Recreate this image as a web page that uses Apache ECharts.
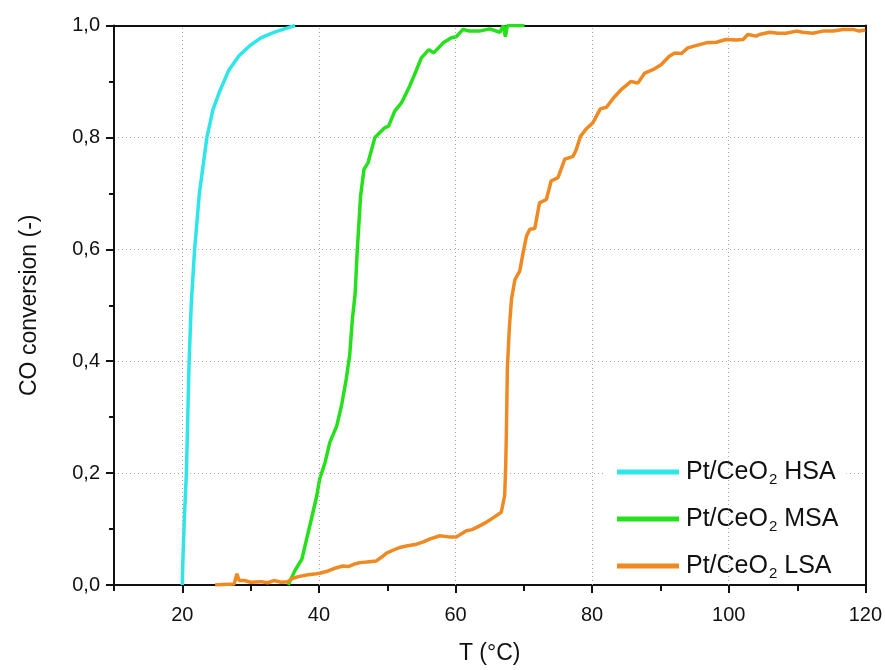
<!DOCTYPE html>
<html>
<head>
<meta charset="utf-8">
<script src="https://cdn.jsdelivr.net/npm/echarts@6/dist/echarts.min.js"></script>
<style>html,body{margin:0;padding:0;background:#fff;}#c{width:885px;height:670px;}</style>
</head>
<body>
<div id="c"></div>
<script>
const seriesNames = ['Pt/CeO₂ HSA', 'Pt/CeO₂ MSA', 'Pt/CeO₂ LSA'];
const legendSuffix = ['HSA', 'MSA', 'LSA'];
const xTicks = [20, 40, 60, 80, 100, 120];
const xMinorTicks = [10, 30, 50, 70, 90, 110];
const xGridLines = [20, 40, 60, 80, 100];
const yTicks = [0, 0.2, 0.4, 0.6, 0.8, 1.0];

const hsaData = [[20.0,0],[20.1,0.05],[20.3,0.12],[20.6,0.2],[20.8,0.3],[21.0,0.4],[21.3,0.5],[21.8,0.6],[22.5,0.7],[23.6,0.8],[24.5,0.85],[25.4,0.88],[26.8,0.92],[28.3,0.946],[30,0.965],[31.5,0.978],[33.5,0.988],[35.2,0.995],[36.5,1.0]];

const msaData = [[35.5,0],[36.5,0.026],[37.5,0.046],[38.2,0.082],[38.9,0.118],[39.7,0.16],[40.1,0.189],[40.9,0.219],[41.6,0.255],[42.6,0.284],[43.3,0.32],[44.0,0.368],[44.5,0.41],[44.9,0.475],[45.3,0.52],[45.6,0.594],[46.1,0.695],[46.6,0.743],[47.2,0.755],[48.2,0.80],[49.6,0.817],[50.2,0.82],[51.1,0.847],[52.1,0.862],[53.3,0.892],[54.3,0.921],[55.0,0.942],[56.1,0.957],[56.8,0.951],[58.2,0.969],[59.4,0.978],[60.1,0.98],[61.1,0.993],[62,0.99],[63.5,0.99],[65,0.994],[66.5,0.988],[67,1.0],[67.3,0.98],[67.6,1.0],[70.1,1.0]];

const lsaData = [[24.8,0],[26,0.001],[27.6,0.002],[28,0.02],[28.3,0.008],[29.1,0.008],[30,0.005],[31.5,0.006],[32.5,0.004],[33.4,0.008],[34.5,0.005],[35.4,0.006],[36.2,0.012],[37,0.015],[38.2,0.018],[39.6,0.02],[40.1,0.021],[41.1,0.024],[42.1,0.029],[43.5,0.034],[44.3,0.033],[45.1,0.037],[46,0.04],[47,0.041],[48.4,0.043],[49.2,0.05],[49.9,0.057],[51,0.063],[51.8,0.067],[53,0.07],[54.3,0.073],[55.3,0.077],[56.2,0.082],[57.7,0.088],[59,0.086],[60.1,0.086],[61.6,0.097],[62.4,0.099],[63.1,0.103],[64.5,0.112],[65.5,0.12],[66.7,0.13],[67.2,0.16],[67.35,0.213],[67.45,0.273],[67.6,0.39],[67.9,0.463],[68.2,0.511],[68.7,0.546],[69.4,0.561],[69.9,0.594],[70.4,0.624],[70.9,0.636],[71.6,0.637],[72.3,0.683],[73.3,0.689],[74.0,0.722],[75.0,0.728],[76.0,0.761],[76.7,0.764],[77.2,0.766],[77.7,0.779],[78.3,0.802],[79.2,0.816],[80.1,0.826],[81.2,0.851],[82.1,0.854],[83.1,0.87],[84.3,0.886],[85.7,0.9],[86.7,0.897],[87.7,0.915],[88.9,0.921],[90.1,0.93],[91.3,0.945],[92.1,0.951],[93.1,0.95],[94,0.96],[95.2,0.964],[96.7,0.969],[98.2,0.97],[99.6,0.975],[101.1,0.974],[102.1,0.975],[102.8,0.984],[104,0.981],[104.5,0.984],[106,0.988],[107.2,0.986],[108.4,0.986],[109.9,0.99],[110.8,0.988],[112.3,0.986],[113.8,0.99],[115.3,0.99],[116.7,0.993],[118.2,0.993],[119.1,0.99],[120,0.992]];

const colors = ['#2ee6ea', '#26e01c', '#ef8a22'];
const FONT = '"Liberation Sans", Arial, sans-serif';
const INK = '#111';

const chart = echarts.init(document.getElementById('c'), null, {renderer: 'canvas'});
const dataSets = [hsaData, msaData, lsaData];
const gridLineStyle = {color: '#aaa', width: 1, type: [1, 3]};
const gridRect = {left: 114, right: 19, top: 25.5, bottom: 84};

const option = {
  animation: false,
  backgroundColor: '#fff',
  textStyle: {fontFamily: FONT, color: INK},
  grid: [Object.assign({}, gridRect), Object.assign({}, gridRect)],
  xAxis: [{
    gridIndex: 0, type: 'value', min: 10, max: 120, interval: 10, position: 'bottom',
    name: 'T (°C)', nameLocation: 'middle', nameGap: 57,
    nameTextStyle: {fontSize: 23, color: INK, fontFamily: FONT},
    axisLine: {show: true, onZero: false, lineStyle: {color: INK, width: 2}},
    axisTick: {show: true, inside: false, length: 8, customValues: xTicks, lineStyle: {color: INK, width: 2}},
    axisLabel: {fontSize: 20, color: INK, margin: 20, fontFamily: FONT, customValues: xTicks},
    splitLine: {show: false}
  }, {
    gridIndex: 1, type: 'value', min: 10, max: 120, interval: 10, position: 'bottom',
    axisLine: {show: false, onZero: false},
    axisTick: {show: true, inside: false, length: 5, customValues: xMinorTicks, lineStyle: {color: INK, width: 2}},
    axisLabel: {show: false},
    splitLine: {show: false}
  }, {
    gridIndex: 1, type: 'value', min: 10, max: 120, position: 'top',
    axisLine: {show: true, onZero: false, lineStyle: {color: INK, width: 2}},
    axisTick: {show: false}, axisLabel: {show: false}, splitLine: {show: false}
  }],
  yAxis: [{
    gridIndex: 0, type: 'value', min: 0, max: 1, interval: 0.2,
    name: 'CO conversion (-)', nameLocation: 'middle', nameGap: 73,
    nameTextStyle: {fontSize: 23, color: INK, fontFamily: FONT},
    axisLine: {show: true, onZero: false, lineStyle: {color: INK, width: 2}},
    axisTick: {show: true, inside: false, length: 8, lineStyle: {color: INK, width: 2}},
    minorTick: {show: true, splitNumber: 2, length: 5, lineStyle: {color: INK, width: 2}},
    axisLabel: {fontSize: 20, color: INK, margin: 14, fontFamily: FONT,
      formatter: v => v.toFixed(1).replace('.', ',')},
    splitLine: {show: true, lineStyle: gridLineStyle}
  }, {
    gridIndex: 1, type: 'value', min: 0, max: 1, position: 'right',
    axisLine: {show: true, onZero: false, lineStyle: {color: INK, width: 2}},
    axisTick: {show: false}, axisLabel: {show: false}, splitLine: {show: false}
  }],
  legend: {
    orient: 'vertical', left: 603, top: 447,
    backgroundColor: '#fff', padding: [5, 8, 0, 14],
    itemWidth: 62, itemHeight: 5, itemGap: 12, icon: 'rect',
    data: seriesNames,
    formatter: name => '{a|Pt/CeO}{s|2}{a| ' + legendSuffix[seriesNames.indexOf(name)] + '}',
    textStyle: {
      fontFamily: FONT, color: INK, padding: [0, 0, 0, 2],
      rich: {
        a: {fontSize: 25, lineHeight: 30, fontFamily: FONT, color: INK},
        s: {fontSize: 15, lineHeight: 30, fontFamily: FONT, color: INK, verticalAlign: 'bottom', padding: [20, 0, 0, 1]}
      }
    }
  },
  series: [{
    name: 'grid', type: 'line', xAxisIndex: 0, yAxisIndex: 0, data: [], z: 1, silent: true,
    markLine: {
      silent: true, symbol: 'none', animation: false,
      label: {show: false}, emphasis: {disabled: true},
      lineStyle: gridLineStyle,
      data: xGridLines.map(x => ({xAxis: x}))
    }
  }].concat(dataSets.map((d, i) => ({
    name: seriesNames[i], type: 'line', data: d, showSymbol: false, symbol: 'none',
    xAxisIndex: 0, yAxisIndex: 0,
    lineStyle: {color: colors[i], width: 3.5}, itemStyle: {color: colors[i]},
    smooth: false, z: 3 + i
  })))
};
chart.setOption(option);
</script>
</body>
</html>
